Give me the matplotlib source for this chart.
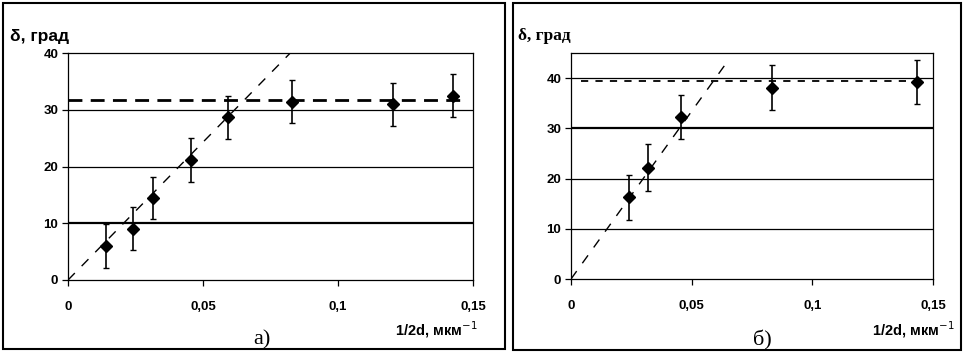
import matplotlib
matplotlib.use("Agg")
import matplotlib.pyplot as plt
from matplotlib.patches import Rectangle
from matplotlib.ticker import FuncFormatter
import numpy as np

# Panel a) data
xa = [0.0141, 0.0240, 0.0316, 0.0454, 0.0591, 0.0831, 0.1202, 0.1427]
ya = [6.0, 9.0, 14.4, 21.1, 28.7, 31.4, 31.0, 32.5]
ea = [3.9, 3.8, 3.7, 3.9, 3.8, 3.8, 3.8, 3.8]
plateau_a = 31.7
slope_a = 486.0

# Panel b) data
xb = [0.0242, 0.0320, 0.0457, 0.0834, 0.1432]
yb = [16.3, 22.2, 32.3, 38.1, 39.2]
eb = [4.5, 4.6, 4.4, 4.5, 4.4]
plateau_b = 39.4
slope_b = 668.0

xticks = [0, 0.05, 0.1, 0.15]
yticks = [0, 10, 20, 30, 40]

plt.rcParams['font.family'] = ['Liberation Sans', 'DejaVu Sans']

fig = plt.figure(figsize=(9.65, 3.53), dpi=100)

# outer frames
fig.patches.append(Rectangle((0.0031, 0.0113), 0.520, 0.980, transform=fig.transFigure,
                             fill=False, lw=1.5, ec='black'))
fig.patches.append(Rectangle((0.5316, 0.0085), 0.4642, 0.983, transform=fig.transFigure,
                             fill=False, lw=1.5, ec='black'))

def fmt(v, pos):
    if v == 0:
        return "0"
    s = ("%g" % v).replace('.', ',')
    return s

def setup(ax, ytop, grid_ys, thick_y):
    ax.set_xlim(0, 0.15)
    ax.set_ylim(0, ytop)
    ax.set_xticks(xticks)
    ax.set_yticks(yticks)
    ax.xaxis.set_major_formatter(FuncFormatter(fmt))
    for sp in ax.spines.values():
        sp.set_color('black')
        sp.set_linewidth(0.9)
    for g in grid_ys:
        ax.axhline(g, color='black', lw=1.6 if g == thick_y else 0.9, zorder=1)
    ax.tick_params(axis='both', direction='out', length=4, width=0.9, labelsize=9.5, pad=3)
    ax.tick_params(axis='x', pad=11)
    for lab in ax.get_xticklabels() + ax.get_yticklabels():
        lab.set_fontweight('bold')

# Panel a
axa = fig.add_axes([0.0705, 0.2068, 0.4197, 0.643])
setup(axa, 40, [10, 20, 30], 10)
xl = np.array([0, 40 / slope_a])
axa.plot(xl, slope_a * xl, color='black', lw=1.0, dashes=(7, 7), zorder=2)
axa.plot([0, 0.146], [plateau_a, plateau_a], color='black', lw=2.0, dashes=(5, 3), zorder=2)
axa.errorbar(xa, ya, yerr=ea, fmt='D', color='black', ms=6, capsize=2.5, elinewidth=1.2,
             capthick=1.0, zorder=3)

# Panel b
axb = fig.add_axes([0.5917, 0.2096, 0.3751, 0.6403])
setup(axb, 45, [10, 20, 30, 40], 30)
xl = np.array([0, 43.4 / slope_b])
axb.plot(xl, slope_b * xl, color='black', lw=1.0, dashes=(7, 7), zorder=2)
axb.plot([0.004, 0.147], [plateau_b, plateau_b], color='black', lw=1.3, dashes=(4, 4), zorder=2)
axb.errorbar(xb, yb, yerr=eb, fmt='D', color='black', ms=6, capsize=2.5, elinewidth=1.2,
             capthick=1.0, zorder=3)

# Texts
fig.text(10 / 965, 1 - 36 / 353, "δ, град", fontsize=12.5, fontweight='bold', va='center', ha='left')
fig.text(518 / 965, 1 - 36 / 353, "δ, град", fontsize=12.5, fontweight='bold', va='center', ha='left',
         family=['Liberation Serif', 'DejaVu Serif'])
fig.text(478 / 965, 1 - 330 / 353, "1/2d, мкм$^{-1}$", fontsize=10.5, fontweight='bold',
         va='center', ha='right')
fig.text(955 / 965, 1 - 330 / 353, "1/2d, мкм$^{-1}$", fontsize=10.5, fontweight='bold',
         va='center', ha='right')
fig.text(262 / 965, 1 - 340 / 353, "а)", fontsize=16, va='center', ha='center',
         family=['Liberation Serif', 'DejaVu Serif'])
fig.text(762 / 965, 1 - 340 / 353, "б)", fontsize=16, va='center', ha='center',
         family=['Liberation Serif', 'DejaVu Serif'])

fig.savefig("out.png", dpi=100)
